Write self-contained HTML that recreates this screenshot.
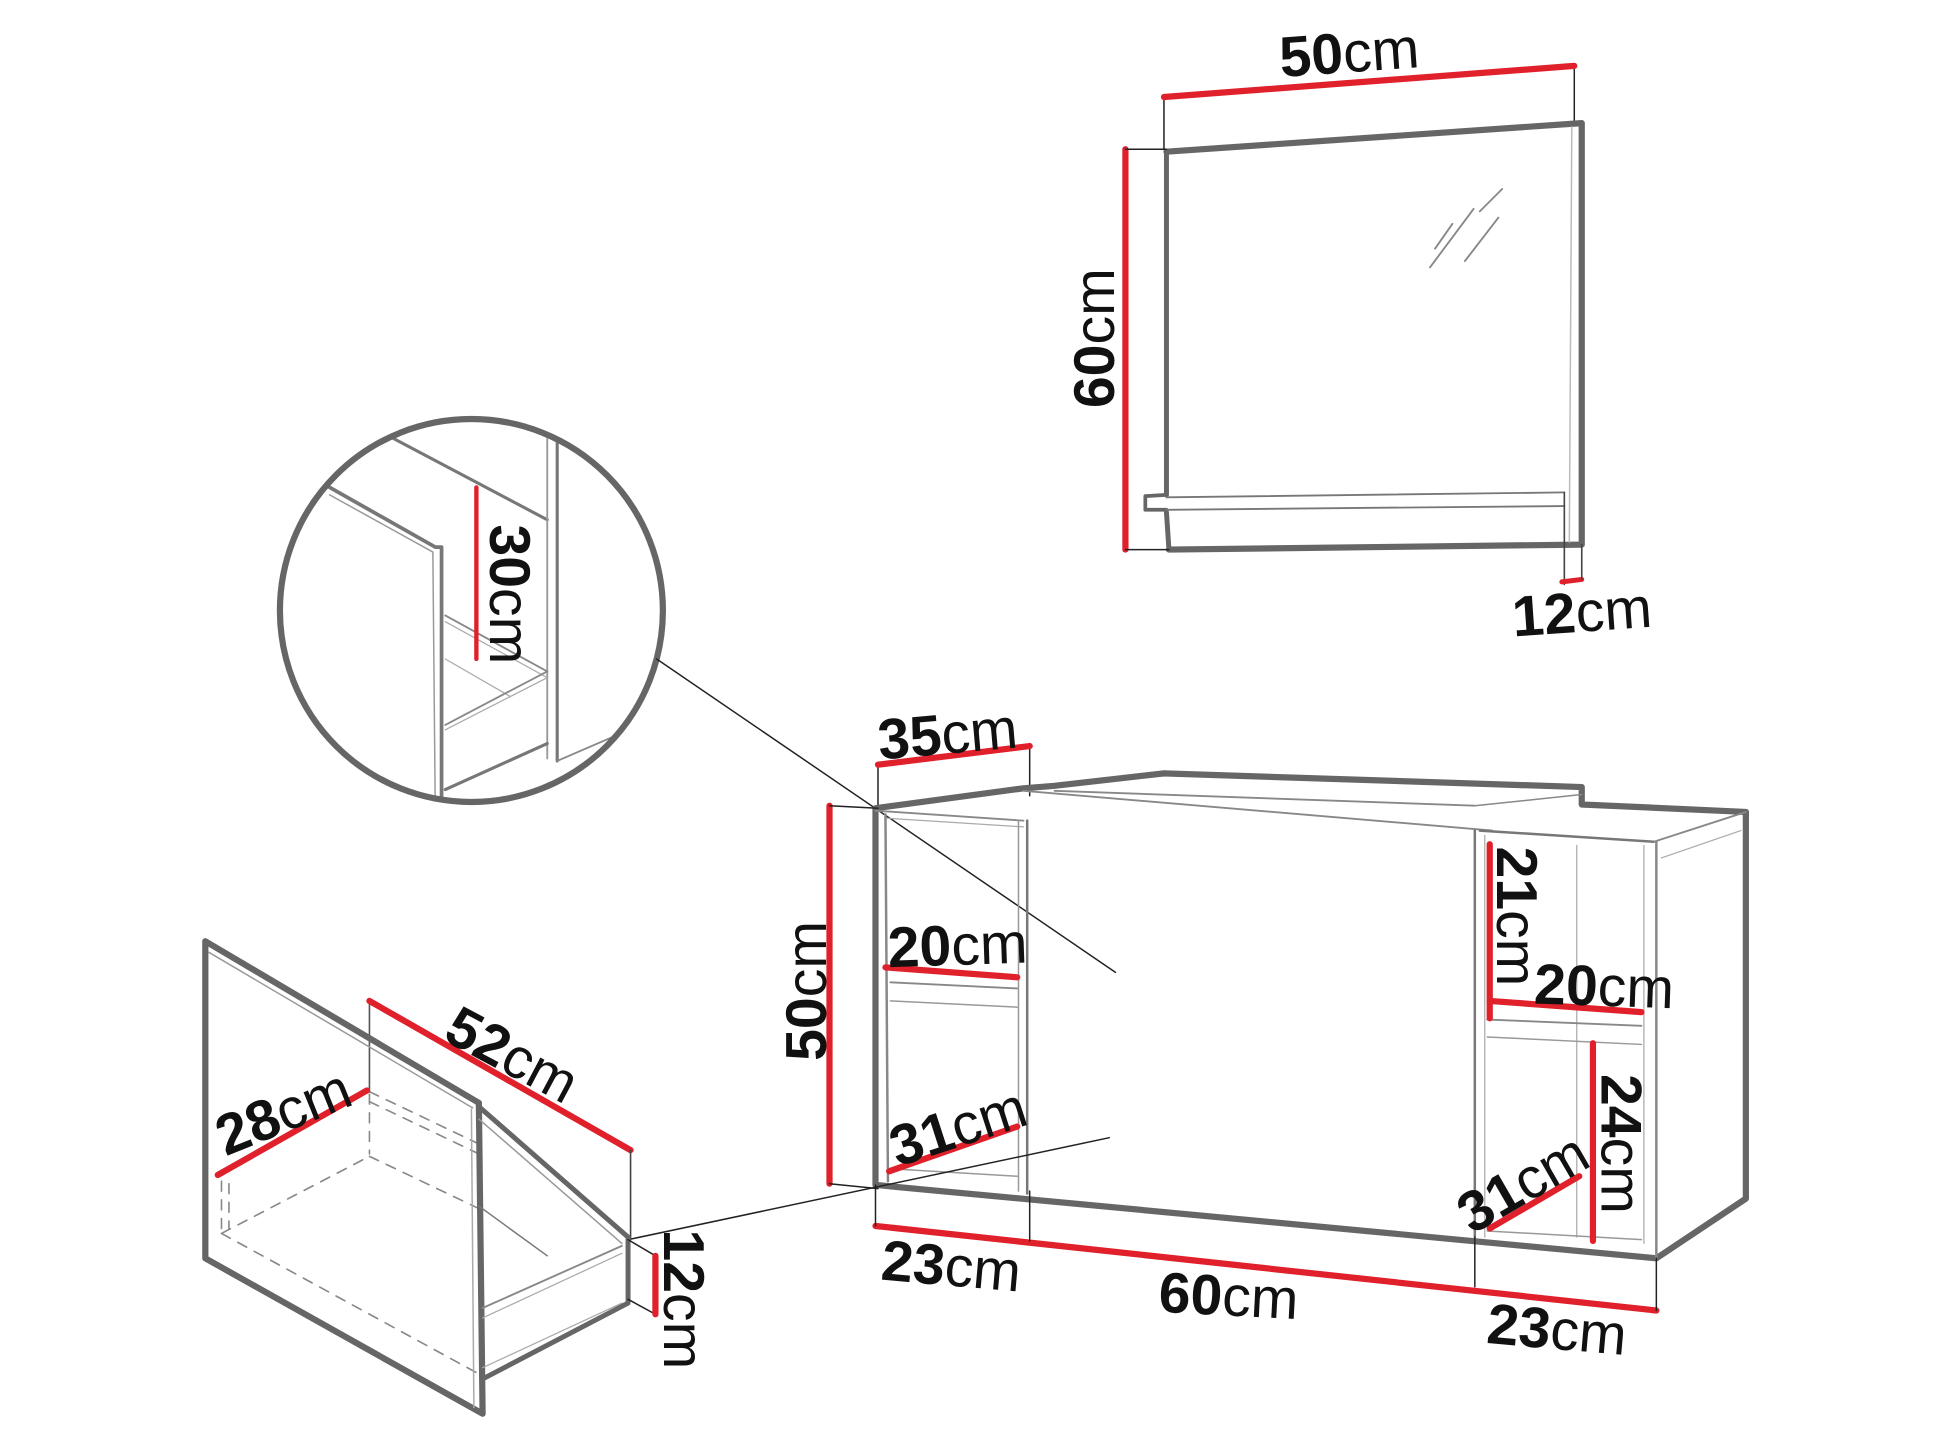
<!DOCTYPE html>
<html><head><meta charset="utf-8"><style>
html,body{margin:0;padding:0;background:#fff;}
svg{display:block;}
text{font-family:"Liberation Sans",sans-serif;fill:#111;}
.n{font-weight:bold;}
</style></head><body>
<svg width="1940" height="1456" viewBox="0 0 1560 1171" xmlns="http://www.w3.org/2000/svg">
<defs><clipPath id="cc"><circle cx="379" cy="491" r="154"/></clipPath></defs>
<g fill="none" stroke-linecap="round" stroke-linejoin="round">
<!-- MIRROR -->
<line x1="936" y1="78" x2="936" y2="120" stroke="#222" stroke-width="1.2"/>
<line x1="1266" y1="53" x2="1266" y2="98" stroke="#222" stroke-width="1.2"/>
<line x1="936" y1="78" x2="1266" y2="53" stroke="#e0202a" stroke-width="5"/>
<path d="M938 122 L1272 99 L1272 438 L940 442" stroke="#666" stroke-width="5"/>
<line x1="938" y1="122" x2="938" y2="398" stroke="#666" stroke-width="4"/>
<line x1="938" y1="412" x2="940" y2="442" stroke="#666" stroke-width="4"/>
<path d="M938 398 L921 399 L921 410 L938 410" stroke="#666" stroke-width="3"/>
<line x1="938" y1="400" x2="1258" y2="396" stroke="#777" stroke-width="1.5"/>
<line x1="938" y1="410" x2="1258" y2="407" stroke="#777" stroke-width="1.5"/>
<line x1="1258" y1="396" x2="1258" y2="470" stroke="#444" stroke-width="1.3"/>
<line x1="1264" y1="102" x2="1262" y2="436" stroke="#bbb" stroke-width="1.2"/>
<line x1="1256" y1="468" x2="1272" y2="466" stroke="#e0202a" stroke-width="4"/>
<line x1="1272" y1="438" x2="1272" y2="466" stroke="#444" stroke-width="1.3"/>
<line x1="905" y1="120" x2="905" y2="442" stroke="#e0202a" stroke-width="5"/>
<line x1="905" y1="120" x2="938" y2="120" stroke="#222" stroke-width="1.2"/>
<line x1="905" y1="442" x2="940" y2="442" stroke="#222" stroke-width="1.2"/>
<line x1="1150" y1="215" x2="1185" y2="168" stroke="#888" stroke-width="1.5"/>
<line x1="1154" y1="200" x2="1168" y2="180" stroke="#888" stroke-width="1.5"/>
<line x1="1178" y1="210" x2="1205" y2="175" stroke="#888" stroke-width="1.5"/>
<line x1="1190" y1="170" x2="1208" y2="152" stroke="#888" stroke-width="1.5"/>

<!-- CIRCLE -->
<g clip-path="url(#cc)">
<path d="M265 392 L350 440 L355 440 L355 660" stroke="#777" stroke-width="3"/>
<line x1="265" y1="398" x2="348" y2="444" stroke="#999" stroke-width="1.2"/>
<line x1="348" y1="444" x2="350" y2="660" stroke="#999" stroke-width="1.2"/>
<line x1="315" y1="352" x2="440" y2="418" stroke="#777" stroke-width="2.5"/>
<line x1="440" y1="330" x2="440" y2="610" stroke="#999" stroke-width="1.5"/>
<line x1="448" y1="330" x2="448" y2="612" stroke="#777" stroke-width="2.5"/>
<line x1="358" y1="495" x2="440" y2="540" stroke="#888" stroke-width="1.5"/>
<line x1="358" y1="500" x2="440" y2="545" stroke="#aaa" stroke-width="1"/>
<line x1="358" y1="530" x2="410" y2="560" stroke="#aaa" stroke-width="1"/>
<line x1="358" y1="583" x2="440" y2="540" stroke="#888" stroke-width="1.5"/>
<line x1="358" y1="587" x2="440" y2="545" stroke="#aaa" stroke-width="1"/>
<line x1="358" y1="635" x2="440" y2="598" stroke="#777" stroke-width="2.5"/>
<line x1="448" y1="612" x2="545" y2="570" stroke="#888" stroke-width="1.5"/>
</g>
<circle cx="379" cy="491" r="154" stroke="#666" stroke-width="5"/>
<line x1="383" y1="392" x2="383" y2="530" stroke="#e0202a" stroke-width="3.5"/>
<line x1="528" y1="530" x2="897" y2="782" stroke="#222" stroke-width="1.2"/>

<!-- CABINET -->
<line x1="706" y1="615" x2="706" y2="650" stroke="#222" stroke-width="1.2"/>
<line x1="828" y1="600" x2="828" y2="640" stroke="#222" stroke-width="1.2"/>
<line x1="706" y1="615" x2="828" y2="600" stroke="#e0202a" stroke-width="5"/>
<path d="M704 650 L823 634 L848 632 L936 622 L1272 633 L1272 647 L1404 653 L1404 964 L1332 1012 L704 953 Z" stroke="#666" stroke-width="5"/>
<line x1="823" y1="636" x2="1200" y2="668" stroke="#888" stroke-width="1.5"/>
<line x1="848" y1="636" x2="1186" y2="648" stroke="#888" stroke-width="1.5"/>
<line x1="1186" y1="648" x2="1272" y2="639" stroke="#888" stroke-width="1.2"/>
<line x1="704" y1="652" x2="823" y2="660" stroke="#888" stroke-width="1.5"/>
<line x1="712" y1="658" x2="823" y2="665" stroke="#aaa" stroke-width="1"/>
<line x1="1190" y1="668" x2="1330" y2="677" stroke="#777" stroke-width="2"/>
<line x1="1330" y1="677" x2="1404" y2="653" stroke="#888" stroke-width="1.5"/>
<line x1="1336" y1="690" x2="1400" y2="668" stroke="#aaa" stroke-width="1"/>
<line x1="1332" y1="677" x2="1332" y2="1012" stroke="#888" stroke-width="2"/>
<line x1="1322" y1="680" x2="1322" y2="1000" stroke="#aaa" stroke-width="1"/>
<line x1="712" y1="655" x2="714" y2="950" stroke="#888" stroke-width="2"/>
<line x1="819" y1="660" x2="819" y2="958" stroke="#999" stroke-width="1.2"/>
<line x1="826" y1="660" x2="826" y2="960" stroke="#777" stroke-width="2"/>
<line x1="1186" y1="668" x2="1186" y2="995" stroke="#777" stroke-width="2"/>
<line x1="1194" y1="672" x2="1194" y2="995" stroke="#aaa" stroke-width="1"/>
<line x1="1268" y1="680" x2="1268" y2="995" stroke="#aaa" stroke-width="1"/>
<line x1="716" y1="790" x2="818" y2="795" stroke="#888" stroke-width="1.5"/>
<line x1="716" y1="805" x2="818" y2="810" stroke="#999" stroke-width="1.2"/>
<line x1="716" y1="940" x2="818" y2="946" stroke="#999" stroke-width="1.2"/>
<line x1="1196" y1="820" x2="1320" y2="825" stroke="#888" stroke-width="1.5"/>
<line x1="1196" y1="834" x2="1320" y2="840" stroke="#999" stroke-width="1.2"/>
<line x1="1196" y1="990" x2="1320" y2="997" stroke="#999" stroke-width="1.2"/>
<!-- red dims cabinet -->
<line x1="667" y1="648" x2="667" y2="952" stroke="#e0202a" stroke-width="5"/>
<line x1="667" y1="648" x2="706" y2="650" stroke="#222" stroke-width="1.2"/>
<line x1="667" y1="952" x2="706" y2="956" stroke="#222" stroke-width="1.2"/>
<line x1="712" y1="778" x2="818" y2="786" stroke="#e0202a" stroke-width="5"/>
<line x1="715" y1="942" x2="818" y2="906" stroke="#e0202a" stroke-width="5"/>
<line x1="1198" y1="679" x2="1198" y2="819" stroke="#e0202a" stroke-width="5"/>
<line x1="1198" y1="805" x2="1320" y2="814" stroke="#e0202a" stroke-width="5"/>
<line x1="1281" y1="839" x2="1281" y2="998" stroke="#e0202a" stroke-width="5"/>
<line x1="1198" y1="988" x2="1270" y2="946" stroke="#e0202a" stroke-width="5"/>
<line x1="704" y1="986" x2="1332" y2="1054" stroke="#e0202a" stroke-width="5"/>
<line x1="704" y1="953" x2="704" y2="986" stroke="#222" stroke-width="1.2"/>
<line x1="828" y1="958" x2="828" y2="998" stroke="#222" stroke-width="1.2"/>
<line x1="1186" y1="995" x2="1186" y2="1035" stroke="#222" stroke-width="1.2"/>
<line x1="1332" y1="1012" x2="1332" y2="1054" stroke="#222" stroke-width="1.2"/>
<line x1="892" y1="915" x2="505" y2="997" stroke="#222" stroke-width="1.2"/>

<!-- DRAWER -->
<line x1="178" y1="945" x2="297" y2="878" stroke="#888" stroke-width="1.3" stroke-dasharray="8,7"/>
<line x1="178" y1="950" x2="178" y2="992" stroke="#888" stroke-width="1.3" stroke-dasharray="8,7"/>
<line x1="184" y1="952" x2="184" y2="988" stroke="#888" stroke-width="1.3" stroke-dasharray="8,7"/>
<line x1="178" y1="992" x2="385" y2="1105" stroke="#888" stroke-width="1.3" stroke-dasharray="8,7"/>
<line x1="178" y1="992" x2="297" y2="930" stroke="#888" stroke-width="1.3" stroke-dasharray="8,7"/>
<line x1="297" y1="880" x2="297" y2="928" stroke="#888" stroke-width="1.3" stroke-dasharray="8,7"/>
<line x1="297" y1="878" x2="385" y2="920" stroke="#888" stroke-width="1.3" stroke-dasharray="8,7"/>
<line x1="297" y1="886" x2="385" y2="928" stroke="#888" stroke-width="1.3" stroke-dasharray="8,7"/>
<line x1="297" y1="930" x2="385" y2="972" stroke="#888" stroke-width="1.3" stroke-dasharray="8,7"/>
<line x1="297" y1="805" x2="297" y2="878" stroke="#555" stroke-width="1.3"/>
<line x1="297" y1="805" x2="507" y2="925" stroke="#e0202a" stroke-width="5"/>
<line x1="507" y1="925" x2="507" y2="997" stroke="#444" stroke-width="1.3"/>
<path d="M165 757 L385 887 L388 1137 L165 1012 Z" stroke="#666" stroke-width="5"/>
<line x1="168" y1="766" x2="380" y2="891" stroke="#999" stroke-width="1.2"/>
<line x1="379" y1="892" x2="381" y2="1132" stroke="#aaa" stroke-width="1.2"/>
<path d="M385 890 L505 995 L505 1048 L390 1108" stroke="#666" stroke-width="4"/>
<line x1="385" y1="900" x2="500" y2="1000" stroke="#999" stroke-width="1.2"/>
<line x1="385" y1="970" x2="440" y2="1010" stroke="#777" stroke-width="1.2"/>
<line x1="388" y1="1052" x2="500" y2="1002" stroke="#888" stroke-width="1.5"/>
<line x1="388" y1="1060" x2="500" y2="1008" stroke="#aaa" stroke-width="1"/>
<line x1="388" y1="1100" x2="500" y2="1048" stroke="#aaa" stroke-width="1"/>
<line x1="175" y1="945" x2="295" y2="877" stroke="#e0202a" stroke-width="5"/>
<line x1="505" y1="997" x2="527" y2="1010" stroke="#222" stroke-width="1.2"/>
<line x1="505" y1="1045" x2="527" y2="1057" stroke="#222" stroke-width="1.2"/>
<line x1="527" y1="1010" x2="527" y2="1057" stroke="#e0202a" stroke-width="5"/>
</g>

<!-- LABELS -->
<g font-size="46">
<text x="1085" y="58" text-anchor="middle" transform="rotate(-4 1085 42)"><tspan class="n">50</tspan>cm</text>
<text x="0" y="0" text-anchor="middle" transform="translate(896 272) rotate(-90)"><tspan class="n">60</tspan>cm</text>
<text x="1272" y="508" text-anchor="middle" transform="rotate(-4 1272 490)"><tspan class="n">12</tspan>cm</text>
<text x="0" y="0" text-anchor="middle" transform="translate(394 478) rotate(90)"><tspan class="n">30</tspan>cm</text>
<text x="762" y="606" text-anchor="middle" transform="rotate(-5 762 590)"><tspan class="n">35</tspan>cm</text>
<text x="0" y="0" text-anchor="middle" transform="translate(664 797) rotate(-90)"><tspan class="n">50</tspan>cm</text>
<text x="770" y="776" text-anchor="middle" transform="rotate(-2 770 760)"><tspan class="n">20</tspan>cm</text>
<text x="770" y="922" text-anchor="middle" transform="rotate(-18 770 905)"><tspan class="n">31</tspan>cm</text>
<text x="0" y="0" text-anchor="middle" transform="translate(1204 737) rotate(90)"><tspan class="n">21</tspan>cm</text>
<text x="1290" y="809" text-anchor="middle" transform="rotate(2 1290 793)"><tspan class="n">20</tspan>cm</text>
<text x="0" y="0" text-anchor="middle" transform="translate(1288 920) rotate(90)"><tspan class="n">24</tspan>cm</text>
<text x="1225" y="967" text-anchor="middle" transform="rotate(-30 1225 952)"><tspan class="n">31</tspan>cm</text>
<text x="765" y="1034" text-anchor="middle" transform="rotate(5 765 1018)"><tspan class="n">23</tspan>cm</text>
<text x="988" y="1058" text-anchor="middle" transform="rotate(3 988 1043)"><tspan class="n">60</tspan>cm</text>
<text x="1252" y="1085" text-anchor="middle" transform="rotate(5 1252 1070)"><tspan class="n">23</tspan>cm</text>
<text x="412" y="864" text-anchor="middle" transform="rotate(28 412 848)"><tspan class="n">52</tspan>cm</text>
<text x="228" y="910" text-anchor="middle" transform="rotate(-22 228 895)"><tspan class="n">28</tspan>cm</text>
<text x="0" y="0" text-anchor="middle" transform="translate(534 1045) rotate(90)"><tspan class="n">12</tspan>cm</text>
</g>
</svg>
</body></html>
